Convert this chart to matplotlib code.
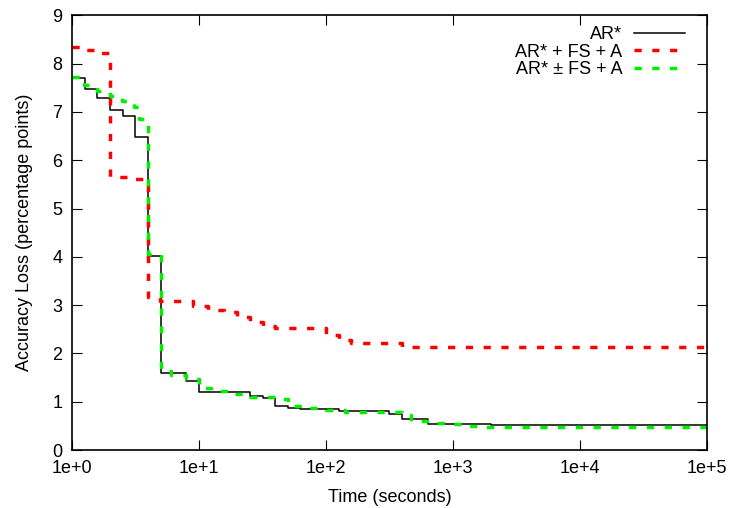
import matplotlib
matplotlib.use("Agg")
import matplotlib.pyplot as plt

plt.rcParams["font.family"] = ["Liberation Sans", "DejaVu Sans"]
plt.rcParams["font.size"] = 13
plt.rcParams["lines.scale_dashes"] = False

# AR* (black step curve): change times and values after each change
ar_t = [1.0, 1.27, 1.57, 2.0, 2.5, 3.13, 4.0, 5.0, 7.9, 10.0, 25, 32, 40, 50,
        62, 126, 316, 400, 640, 2000, 1e5]
ar_v = [7.70, 7.47, 7.28, 7.03, 6.91, 6.47, 4.02, 1.60, 1.43, 1.20, 1.12, 1.08,
        0.91, 0.87, 0.85, 0.81, 0.75, 0.64, 0.54, 0.52, 0.52]

# AR* + FS + A (red)
fs_t = [1.0, 1.2, 1.6, 2.0, 3.0, 4.0, 4.9, 8.9, 11.8, 15.8, 20, 25, 32, 40,
        100, 126, 158, 400, 3000, 1e5]
fs_v = [8.34, 8.28, 8.22, 5.65, 5.62, 3.17, 3.09, 2.99, 2.90, 2.85, 2.75, 2.66,
        2.57, 2.53, 2.38, 2.28, 2.22, 2.14, 2.13, 2.13]

# AR* ± FS + A (green)
pm_t = [1.0, 1.24, 1.57, 2.0, 2.47, 3.1, 3.4, 4.0, 5.0, 6.0, 7.9, 10.0, 12.5,
        17, 25, 40, 50, 70, 100, 140, 400, 470, 660, 880, 1200, 1700, 1e5]
pm_v = [7.72, 7.55, 7.43, 7.32, 7.22, 7.10, 6.85, 4.05, 1.64, 1.55, 1.47, 1.29,
        1.22, 1.16, 1.10, 1.05, 0.92, 0.88, 0.83, 0.79, 0.73, 0.60, 0.56, 0.54,
        0.50, 0.48, 0.47]

labels = ["AR*", "AR* + FS + A", "AR* \u00b1 FS + A"]

fig = plt.figure(figsize=(7.3, 5.08), dpi=100)
ax = fig.add_axes([0.0986, 0.114, 0.8699, 0.856])

ax.step(ar_t, ar_v, where="post", color="black", lw=1.1, label=labels[0])
ax.step(fs_t, fs_v, where="post", color="#ff0000", lw=2.5,
        dashes=(5.2, 7.6), label=labels[1])
ax.step(pm_t, pm_v, where="post", color="#00ee00", lw=2.5,
        dashes=(5.2, 7.6), label=labels[2])

ax.set_xscale("log")
ax.set_xlim(1, 1e5)
ax.set_ylim(0, 9)
ax.set_xticks([1, 10, 100, 1000, 10000, 100000])
ax.set_xticklabels(["1e+0", "1e+1", "1e+2", "1e+3", "1e+4", "1e+5"])
ax.minorticks_off()
ax.set_yticks(range(10))

ax.tick_params(direction="in", length=7, width=0.8, top=True, right=True,
               pad=7, labelsize=13)
for s in ax.spines.values():
    s.set_linewidth(1.2)

ax.set_xlabel("Time (seconds)", fontsize=13, labelpad=9)
ax.set_ylabel("Accuracy Loss (percentage points)", fontsize=13, labelpad=14)

leg = ax.legend(loc="upper right", bbox_to_anchor=(1 - 11 / 635, 1.0),
                markerfirst=False, frameon=False,
                handlelength=2.8, handletextpad=0.65, labelspacing=0.02,
                borderaxespad=0.0, borderpad=0.62, fontsize=13)

fig.savefig("out.png", dpi=100)
